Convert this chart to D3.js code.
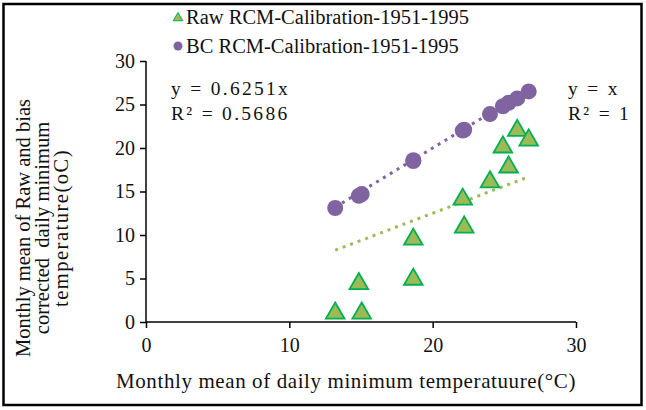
<!DOCTYPE html>
<html>
<head>
<meta charset="utf-8">
<script src="https://cdn.jsdelivr.net/npm/d3@7"></script>
<style>
    body { margin: 0; background: #fff; }
    svg text { font-family: "Liberation Serif", "DejaVu Serif", serif; fill: #111; }
</style>
</head>
<body>
<div id="chart"></div>
<script>
// observed monthly mean of daily minimum temperature (x)
const observed = [13.2, 14.85, 15.05, 18.65, 18.65, 22.1, 22.2, 24.0, 24.9, 25.3, 25.9, 26.7];
// raw RCM values
const rawRcm = [1.0, 4.4, 1.0, 9.5, 4.9, 14.1, 10.9, 16.1, 20.1, 17.8, 22.0, 20.9];
// bias corrected RCM values
const bcRcm = [13.1, 14.5, 14.7, 18.5, 18.6, 22.0, 22.1, 23.9, 24.8, 25.2, 25.7, 26.5];

const seriesNames = ["Raw RCM-Calibration-1951-1995", "BC RCM-Calibration-1951-1995"];
const trendSlopes = [0.6251, 1];
const trendLabels = [["y = 0.6251x", "R\u00b2 = 0.5686"], ["y = x", "R\u00b2 = 1"]];
const xTicks = [0, 10, 20, 30];
const yTicks = [0, 5, 10, 15, 20, 25, 30];

const width = 646;
const height = 410;

const svg = d3.select("#chart")
    .append("svg")
    .attr("width", width)
    .attr("height", height);

// outer frame
svg.append("rect")
    .attr("x", 3.5)
    .attr("y", 4)
    .attr("width", 638)
    .attr("height", 401)
    .attr("fill", "none")
    .attr("stroke", "#000")
    .attr("stroke-width", 2.5);

const x = d3.scaleLinear().domain([0, 30]).range([146, 576]);
const y = d3.scaleLinear().domain([0, 30]).range([322, 61]);

// axes
const xAxis = svg.append("g")
    .attr("transform", "translate(0," + y(0) + ")")
    .call(d3.axisBottom(x).tickValues(xTicks).tickSize(6).tickPadding(10));

const yAxis = svg.append("g")
    .attr("transform", "translate(" + x(0) + ",0)")
    .call(d3.axisLeft(y).tickValues(yTicks).tickSize(6).tickPadding(5));

[xAxis, yAxis].forEach(function (g) {
    g.selectAll("path, line").attr("stroke", "#000").attr("stroke-width", 1.5);
    g.selectAll("text").attr("font-size", 20).attr("fill", "#111");
    g.attr("font-family", null);
});
xAxis.select(".domain").attr("d", "M" + x(0) + ",0H" + x(30));
yAxis.select(".domain").attr("d", "M0," + y(0) + "V" + y(30));

// trend lines (dotted), drawn from the smallest to the largest observed value
const xExtent = d3.extent(observed);
const trendColors = ["#9bbb59", "#8064a2"];
const line = d3.line()
    .x(function (d) { return x(d[0]); })
    .y(function (d) { return y(d[1]); });

trendSlopes.forEach(function (slope, i) {
    svg.append("path")
        .attr("d", line(xExtent.map(function (v) { return [v, v * slope]; })))
        .attr("fill", "none")
        .attr("stroke", trendColors[i])
        .attr("stroke-width", 3)
        .attr("stroke-dasharray", "3 5");
});

// markers
const triangle = d3.symbol().type(d3.symbolTriangle).size(150);

svg.append("g")
    .selectAll("circle")
    .data(d3.zip(observed, bcRcm))
    .enter()
    .append("circle")
    .attr("cx", function (d) { return x(d[0]); })
    .attr("cy", function (d) { return y(d[1]); })
    .attr("r", 8)
    .attr("fill", "#8064a2");

svg.append("g")
    .selectAll("path")
    .data(d3.zip(observed, rawRcm))
    .enter()
    .append("path")
    .attr("d", triangle)
    .attr("transform", function (d) { return "translate(" + x(d[0]) + "," + y(d[1]) + ")"; })
    .attr("fill", "#9bbb59")
    .attr("stroke", "#00b050")
    .attr("stroke-width", 1.8);

// legend
const legend = svg.append("g").attr("transform", "translate(178,0)");
legend.append("path")
    .attr("d", d3.symbol().type(d3.symbolTriangle).size(40))
    .attr("transform", "translate(0,18)")
    .attr("fill", "#9bbb59")
    .attr("stroke", "#00b050")
    .attr("stroke-width", 1);
legend.append("circle")
    .attr("cx", 0)
    .attr("cy", 46)
    .attr("r", 4.5)
    .attr("fill", "#8064a2");
legend.selectAll("text")
    .data(seriesNames)
    .enter()
    .append("text")
    .attr("x", 8)
    .attr("y", function (d, i) { return 24 + i * 29; })
    .attr("font-size", 20.5)
    .text(function (d) { return d; });

// trend equations
const eqPos = [[171, 95], [568, 95]];
trendLabels.forEach(function (lines, i) {
    lines.forEach(function (t, j) {
        svg.append("text")
            .attr("x", eqPos[i][0])
            .attr("y", eqPos[i][1] + j * 25)
            .attr("font-size", 19.5)
            .attr("letter-spacing", 2.3)
            .text(t);
    });
});

// axis titles
svg.append("text")
    .attr("x", 346)
    .attr("y", 388)
    .attr("text-anchor", "middle")
    .attr("font-size", 21)
    .attr("letter-spacing", 0.6)
    .text("Monthly mean of daily minimum temperatuure(\u00b0C)");

const yTitle = ["Monthly mean of Raw and bias", "corrected  daily minimum", "temperature(oC)"];
svg.append("g")
    .selectAll("text")
    .data(yTitle)
    .enter()
    .append("text")
    .attr("transform", function (d, i) { return "translate(" + (30 + i * 19) + ",228) rotate(-90)"; })
    .attr("text-anchor", "middle")
    .attr("font-size", 20.5)
    .attr("letter-spacing", function (d, i) { return i === 2 ? 1.5 : 0; })
    .attr("xml:space", "preserve")
    .style("white-space", "pre")
    .text(function (d) { return d; });
</script>
</body>
</html>
